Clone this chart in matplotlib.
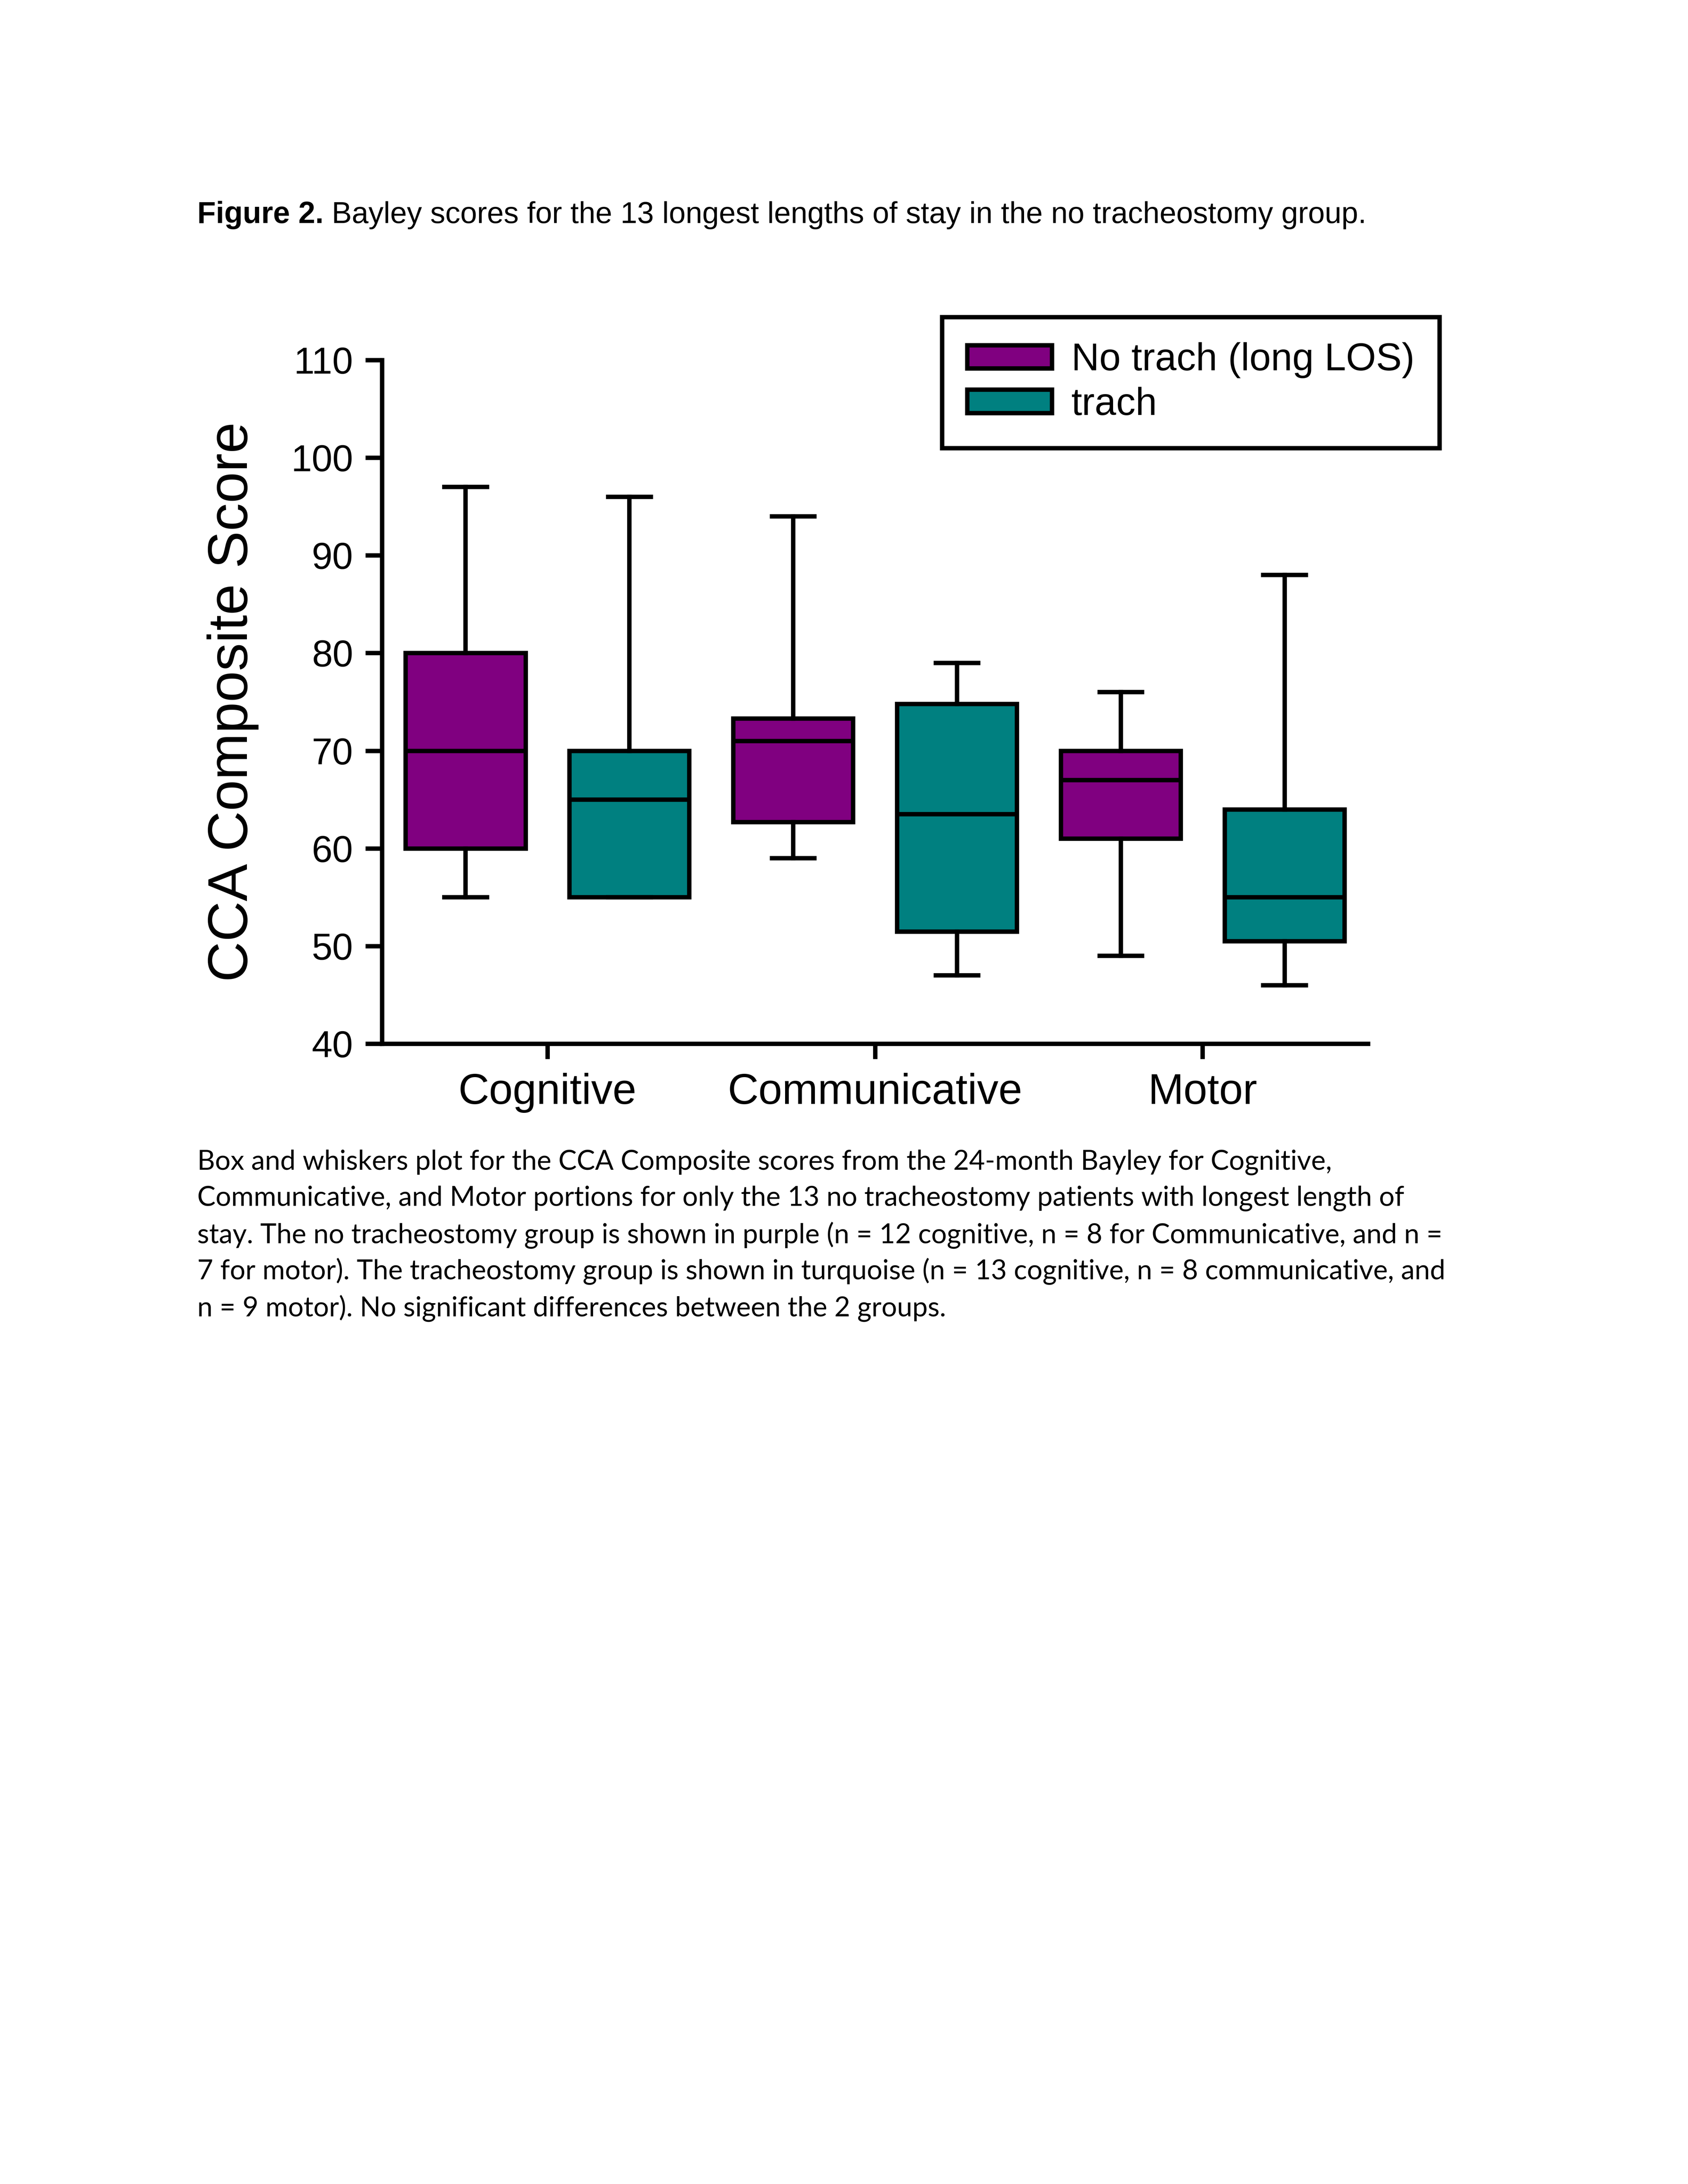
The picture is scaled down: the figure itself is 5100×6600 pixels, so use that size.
import matplotlib
matplotlib.use("Agg")
import matplotlib.pyplot as plt
from matplotlib.patches import Patch

# box statistics (whisker low, Q1, median, Q3, whisker high)
categories = ["Cognitive", "Communicative", "Motor"]
groups = ["No trach (long LOS)", "trach"]
colors = ["#800080", "#008080"]

notrach_lo = [55, 59, 49]
notrach_q1 = [60, 62.7, 61]
notrach_med = [70, 71, 67]
notrach_q3 = [80, 73.3, 70]
notrach_hi = [97, 94, 76]

trach_lo = [55, 47, 46]
trach_q1 = [55, 51.5, 50.5]
trach_med = [65, 63.5, 55]
trach_q3 = [70, 74.8, 64]
trach_hi = [96, 79, 88]

caption = [
    "Box and whiskers plot for the CCA Composite scores from the 24-month Bayley for Cognitive,",
    "Communicative, and Motor portions for only the 13 no tracheostomy patients with longest length of",
    "stay. The no tracheostomy group is shown in purple (n = 12 cognitive, n = 8 for Communicative, and n =",
    "7 for motor). The tracheostomy group is shown in turquoise (n = 13 cognitive, n = 8 communicative, and",
    "n = 9 motor). No significant differences between the 2 groups.",
]

plt.rcParams['font.family'] = ['Liberation Sans', 'DejaVu Sans']
LW = 1.6

fig = plt.figure(figsize=(8.5, 11), dpi=600)
ax = fig.add_axes([0.2263, 0.5221, 0.5841, 0.3131])

def stats(lo, q1, med, q3, hi):
    return [dict(whislo=a, q1=b, med=c, q3=d, whishi=e, fliers=[])
            for a, b, c, d, e in zip(lo, q1, med, q3, hi)]

sets = [stats(notrach_lo, notrach_q1, notrach_med, notrach_q3, notrach_hi),
        stats(trach_lo, trach_q1, trach_med, trach_q3, trach_hi)]
offsets = [-0.25, 0.25]

for st, off, col in zip(sets, offsets, colors):
    pos = [i + off for i in range(len(categories))]
    ax.bxp(st, positions=pos, widths=0.366, capwidths=0.13, patch_artist=True,
           showfliers=False, manage_ticks=False,
           boxprops=dict(facecolor=col, edgecolor='black', linewidth=LW),
           medianprops=dict(color='black', linewidth=LW),
           whiskerprops=dict(color='black', linewidth=LW),
           capprops=dict(color='black', linewidth=LW))

ax.set_xlim(-0.505, 2.505)
ax.set_ylim(40, 110)
ax.set_yticks(range(40, 111, 10))
ax.set_xticks(range(len(categories)))
ax.set_xticklabels(categories, fontsize=15.5)
ax.tick_params(axis='y', labelsize=13.5, width=LW, length=6, pad=4.5)
ax.tick_params(axis='x', width=LW, length=5.5, pad=5)
for s in ['top', 'right']:
    ax.spines[s].set_visible(False)
for s in ['left', 'bottom']:
    ax.spines[s].set_linewidth(LW)
    ax.spines[s].set_capstyle('projecting')

ax.set_ylabel("CCA Composite Score", fontsize=20.3)
ax.yaxis.set_label_coords(-0.125, 0.5)

handles = [Patch(facecolor=c, edgecolor='black', linewidth=LW) for c in colors]
leg = fig.legend(handles, groups, loc='upper left', bbox_to_anchor=(0.558, 0.8548),
                 fontsize=14, frameon=True, fancybox=False, framealpha=1,
                 borderpad=0.65, labelspacing=0.22, handlelength=2.2,
                 handleheight=0.55, handletextpad=0.5, borderaxespad=0)
leg.get_frame().set_edgecolor('black')
leg.get_frame().set_linewidth(LW)

t = fig.text(0.1168, 0.9015, "Figure 2.", fontsize=11, fontweight='bold', va='center')
ax.annotate(" Bayley scores for the 13 longest lengths of stay in the no tracheostomy group.",
            xy=(1, 0.5), xycoords=t, va='center', ha='left', fontsize=10.9,
            annotation_clip=False)

ys = [0.4678, 0.4514, 0.4343, 0.4179, 0.4009]
for line, y in zip(caption, ys):
    fig.text(0.1168, y, line, fontsize=9.95, va='center', family=['Lato', 'DejaVu Sans'])

fig.savefig("out.png", dpi=600)
